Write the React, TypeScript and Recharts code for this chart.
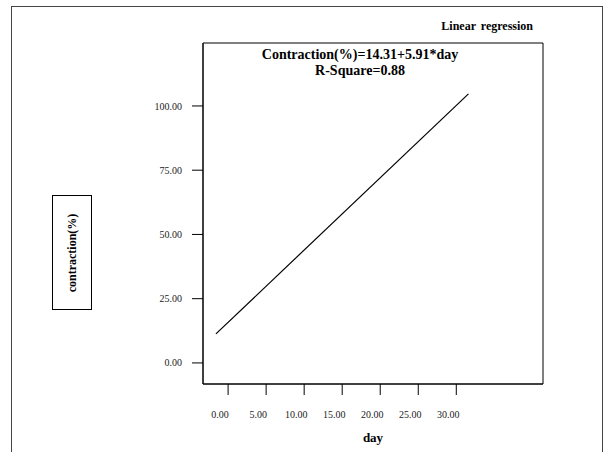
import { LineChart, Line, XAxis, YAxis, ReferenceArea } from 'recharts'

// values
const days = [-1.6, 31.6]
const contraction = [11.3, 104.7]
const xTicks = [0, 5, 10, 15, 20, 25, 30]
const yTicks = [0, 25, 50, 75, 100]
const equation = 'Contraction(%)=14.31+5.91*day'
const rSquare = 'R-Square=0.88'

const X_DOMAIN: [number, number] = [-3.3, 41.4]
const Y_DOMAIN: [number, number] = [-8.2, 124.5]

const FONT = '"Liberation Serif", "Times New Roman", serif'

const chartData = days.map((d, i) => ({ day: d, value: contraction[i] }))

function XTick({ x, y, payload }: any) {
  return (
    <text x={x - 8} y={y + 21} textAnchor="middle" fontFamily={FONT} fontSize={10} fill="#222">
      {Number(payload.value).toFixed(2)}
    </text>
  )
}

export default function App() {
  return (
    <div style={{ position: 'absolute', left: 0, top: 0, width: 609, height: 452, background: '#fff' }}>
      {/* outer frame, open at the bottom */}
      <div
        style={{
          position: 'absolute',
          left: 11,
          top: 6,
          width: 590,
          height: 446,
          borderTop: '1px solid #444',
          borderLeft: '1px solid #444',
          borderRight: '1px solid #444',
        }}
      />
      <div
        style={{
          position: 'absolute',
          right: 609 - 533,
          top: 19,
          fontFamily: FONT,
          fontWeight: 'bold',
          fontSize: 12,
          wordSpacing: 2,
          whiteSpace: 'nowrap',
        }}
      >
        Linear regression
      </div>
      <div
        style={{
          position: 'absolute',
          left: 52,
          top: 195,
          width: 38,
          height: 113,
          border: '1px solid #000',
        }}
      >
        <div
          style={{
            position: 'absolute',
            left: '50%',
            top: '50%',
            transform: 'translate(-50%, -50%) rotate(-90deg)',
            fontFamily: FONT,
            fontWeight: 'bold',
            fontSize: 12,
            whiteSpace: 'nowrap',
          }}
        >
          contraction(%)
        </div>
      </div>
      <div style={{ position: 'absolute', left: 0, top: 0 }}>
        <LineChart
          width={609}
          height={452}
          data={chartData}
          margin={{ top: 43, right: 66, bottom: 28, left: 143 }}
        >
          <XAxis
            type="number"
            dataKey="day"
            domain={X_DOMAIN}
            ticks={xTicks}
            allowDataOverflow
            height={40}
            tickSize={11}
            axisLine={{ stroke: '#000' }}
            tickLine={{ stroke: '#000' }}
            tick={<XTick />}
            label={{
              value: 'day',
              position: 'insideBottom',
              offset: -18,
              style: { fontFamily: FONT, fontWeight: 'bold', fontSize: 13, fill: '#000' },
            }}
          />
          <YAxis
            type="number"
            domain={Y_DOMAIN}
            ticks={yTicks}
            allowDataOverflow
            width={60}
            tickSize={11}
            tickMargin={10}
            axisLine={{ stroke: '#000' }}
            tickLine={{ stroke: '#000' }}
            tick={{ fontFamily: FONT, fontSize: 10, fill: '#222' }}
            tickFormatter={(v: number) => v.toFixed(2)}
          />
          <ReferenceArea
            x1={X_DOMAIN[0]}
            x2={X_DOMAIN[1]}
            y1={Y_DOMAIN[0]}
            y2={Y_DOMAIN[1]}
            fill="none"
            fillOpacity={0}
            stroke="#000"
            strokeOpacity={1}
          />
          <Line
            type="linear"
            dataKey="value"
            stroke="#000"
            strokeWidth={1.2}
            dot={false}
            isAnimationActive={false}
          />
          <text
            x={360}
            y={59}
            textAnchor="middle"
            fontFamily={FONT}
            fontWeight="bold"
            fontSize={14}
            fill="#000"
          >
            {equation}
          </text>
          <text
            x={360}
            y={75}
            textAnchor="middle"
            fontFamily={FONT}
            fontWeight="bold"
            fontSize={14}
            fill="#000"
          >
            {rSquare}
          </text>
        </LineChart>
      </div>
    </div>
  )
}
